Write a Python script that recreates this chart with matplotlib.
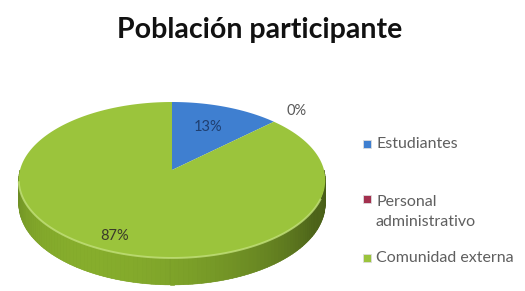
import numpy as np
import matplotlib
matplotlib.use("Agg")
import matplotlib.pyplot as plt
from matplotlib.colors import to_rgb

# data
categories = ["Estudiantes", "Personal\nadministrativo", "Comunidad externa"]
values = [13, 0, 87]
pct_labels = ["13%", "0%", "87%"]
colors = ["#3f7fd0", "#a3304e", "#9bc43c"]

# pseudo-3D pie geometry (pixel coords)
cx, cy = 172, 170
A, B, k = 152, 76.7, 0.128
H = 23.5


def proj(u, v, z=0.0):
    s = 1.0 / (1.0 + k * v)
    return cx + A * u * s, cy - B * v * s + H * z * s


fig = plt.figure(figsize=(5.25, 2.91), dpi=100)
ax = fig.add_axes([0, 0, 1, 1])
ax.set_xlim(0, 525)
ax.set_ylim(291, 0)
ax.axis("off")

fr = np.cumsum([0] + values) / float(sum(values))

# side wall (front half only), shaded by a light from the front-left
side_rgb = np.array(to_rgb("#86ad2c"))
light = np.array([-0.5, -0.85])
light = light / np.linalg.norm(light)
ts = np.linspace(np.pi / 2, 3 * np.pi / 2, 120)
outline = [proj(np.sin(a), np.cos(a)) for a in ts] + \
          [proj(np.sin(a), np.cos(a), 1) for a in ts[::-1]]
xs, ys = zip(*outline)
ax.fill(xs, ys, color=side_rgb * 0.85, lw=0)
for t0, t1 in zip(ts[:-1], ts[1:]):
    tm = 0.5 * (t0 + t1)
    d = np.sin(tm) * light[0] + np.cos(tm) * light[1]
    f = 0.58 + 0.42 * d if d > 0 else 0.58 + 0.12 * d
    c = np.clip(side_rgb * f, 0, 1)
    p = [proj(np.sin(t0), np.cos(t0)), proj(np.sin(t1), np.cos(t1)),
         proj(np.sin(t1), np.cos(t1), 1), proj(np.sin(t0), np.cos(t0), 1)]
    xs, ys = zip(*p)
    ax.fill(xs, ys, color=c, lw=0.4, ec=c)

# top surface wedges
for i, v in enumerate(values):
    if v == 0:
        continue
    t = np.linspace(2 * np.pi * fr[i], 2 * np.pi * fr[i + 1], 200)
    pts = [proj(0, 0)] + [proj(np.sin(a), np.cos(a)) for a in t]
    xs, ys = zip(*pts)
    ax.fill(xs, ys, color=colors[i], lw=0)

# rim highlight on the front edge
t = np.linspace(np.pi * 0.62, np.pi * 1.45, 100)
xs, ys = zip(*[proj(np.sin(a), np.cos(a)) for a in t])
ax.plot(xs, ys, color="#c2e07a", lw=1.4, alpha=0.8)

# percentage labels
label_r = [0.65, 1.25, 0.85]
label_c = ["#1f3f70", "#595959", "#3a3a2a"]
for i in range(len(values)):
    tm = np.pi * (fr[i] + fr[i + 1])
    r = label_r[i]
    x, y = proj(r * np.sin(tm), r * np.cos(tm))
    ax.text(x, y, pct_labels[i], ha="center", va="center", fontsize=10.5,
            color=label_c[i], family="Lato")

# title
ax.text(260, 30, "Población participante", ha="center", va="center",
        fontsize=20.5, fontweight="bold", color="#111111", family="Lato")

# legend
leg_y = [144, 199, 258]
for i, lab in enumerate(categories):
    ax.scatter([367], [leg_y[i]], marker="s", s=38, color=colors[i],
               edgecolors="#dddddd", linewidths=0.6)
    dy = 13 if "\n" in lab else 0
    ax.text(376, leg_y[i] + dy, lab, ha="left", va="center", fontsize=11.5,
            color="#5f5f5f", family="Lato", linespacing=1.5)

fig.savefig("out.png", dpi=100, facecolor="white")
